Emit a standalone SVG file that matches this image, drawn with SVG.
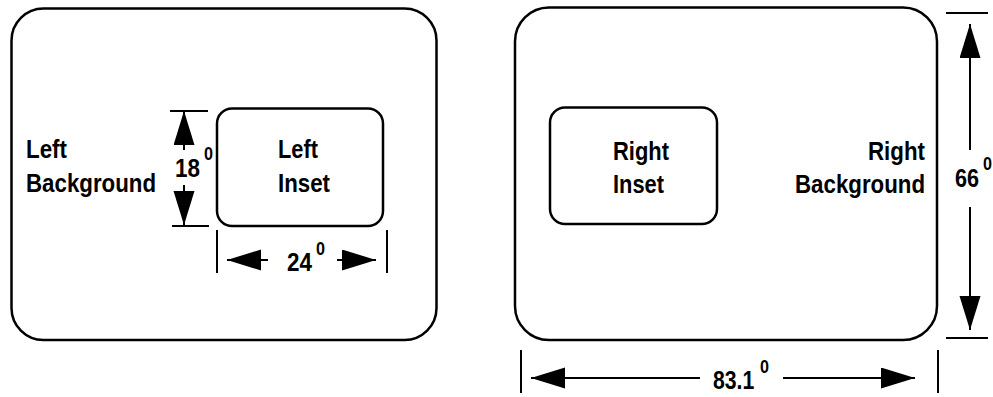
<svg xmlns="http://www.w3.org/2000/svg" width="993" height="397" viewBox="0 0 993 397">
<defs>
<marker id="ah" markerUnits="userSpaceOnUse" markerWidth="36" markerHeight="22" refX="34" refY="10.5" orient="auto-start-reverse" viewBox="0 0 36 22">
<path d="M0,0 L34,10.5 L0,21 Z" fill="#000"/>
</marker>
<style>
.box{fill:#fff;stroke:#000;stroke-width:2.5}
.dim{stroke:#000;stroke-width:2;fill:none}
.tick{stroke:#000;stroke-width:2}
.lbl{font-family:"Liberation Sans",Arial,sans-serif;font-weight:bold;font-size:26.5px;fill:#000}
.sup{font-family:"Liberation Sans",Arial,sans-serif;font-weight:bold;font-size:18px;fill:#000}
</style>
</defs>
<rect width="993" height="397" fill="#fff"/>
<g id="left-background">
<rect class="box" x="11.5" y="8.5" width="425" height="331.5" rx="32" ry="32"/>
<text class="lbl" x="26" y="158" textLength="41" lengthAdjust="spacingAndGlyphs">Left</text>
<text class="lbl" x="26" y="192" textLength="130" lengthAdjust="spacingAndGlyphs">Background</text>
</g>
<g id="left-inset">
<rect class="box" x="217" y="108.5" width="166" height="117.5" rx="15" ry="15"/>
<text class="lbl" x="278" y="158" textLength="40" lengthAdjust="spacingAndGlyphs">Left</text>
<text class="lbl" x="278" y="192" textLength="52" lengthAdjust="spacingAndGlyphs">Inset</text>
</g>
<g id="right-background">
<rect class="box" x="515" y="7.5" width="422" height="332.5" rx="34" ry="34"/>
<text class="lbl" x="925" y="160" text-anchor="end" textLength="57" lengthAdjust="spacingAndGlyphs">Right</text>
<text class="lbl" x="925" y="193" text-anchor="end" textLength="130" lengthAdjust="spacingAndGlyphs">Background</text>
</g>
<g id="right-inset">
<rect class="box" x="550" y="107.5" width="167" height="116.5" rx="15" ry="15"/>
<text class="lbl" x="613" y="160" textLength="56" lengthAdjust="spacingAndGlyphs">Right</text>
<text class="lbl" x="613" y="193" textLength="51" lengthAdjust="spacingAndGlyphs">Inset</text>
</g>
<g id="connectors">
<line class="tick" x1="170" y1="111" x2="208" y2="111"/>
<line class="tick" x1="172" y1="226" x2="209" y2="226"/>
<line class="dim" x1="184" y1="150" x2="184" y2="111" marker-end="url(#ah)"/>
<line class="dim" x1="184" y1="185" x2="184" y2="225" marker-end="url(#ah)"/>
<line class="tick" x1="217" y1="230" x2="217" y2="273"/>
<line class="tick" x1="387" y1="230" x2="387" y2="273"/>
<line class="dim" x1="268" y1="260" x2="227" y2="260" marker-end="url(#ah)"/>
<line class="dim" x1="337" y1="260" x2="376" y2="260" marker-end="url(#ah)"/>
<line class="tick" x1="946" y1="13" x2="988" y2="13"/>
<line class="tick" x1="946" y1="338" x2="988" y2="338"/>
<line class="dim" x1="970" y1="150" x2="970" y2="24" marker-end="url(#ah)"/>
<line class="dim" x1="970" y1="207" x2="970" y2="330" marker-end="url(#ah)"/>
<line class="tick" x1="521" y1="350" x2="521" y2="393"/>
<line class="tick" x1="938" y1="350" x2="938" y2="393"/>
<line class="dim" x1="700" y1="378" x2="531" y2="378" marker-end="url(#ah)"/>
<line class="dim" x1="783" y1="378" x2="915" y2="378" marker-end="url(#ah)"/>
</g>
<g id="dimension-labels">
<text class="lbl" x="175" y="177" textLength="25" lengthAdjust="spacingAndGlyphs">18</text>
<text class="sup" x="204" y="160" textLength="9" lengthAdjust="spacingAndGlyphs">0</text>
<text class="lbl" x="287" y="271" textLength="25" lengthAdjust="spacingAndGlyphs">24</text>
<text class="sup" x="316" y="255" textLength="9" lengthAdjust="spacingAndGlyphs">0</text>
<text class="lbl" x="955" y="187" textLength="24" lengthAdjust="spacingAndGlyphs">66</text>
<text class="sup" x="983" y="170" textLength="9" lengthAdjust="spacingAndGlyphs">0</text>
<text class="lbl" transform="translate(713,389) scale(0.8,1)" x="0" y="0">83.1</text>
<text class="sup" x="760" y="373" textLength="9" lengthAdjust="spacingAndGlyphs">0</text>
</g>
</svg>
